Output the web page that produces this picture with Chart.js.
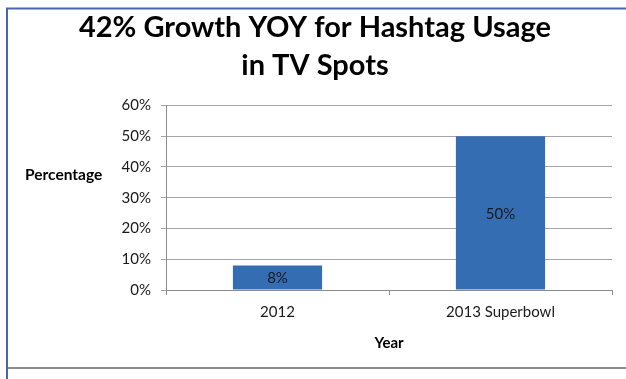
<!DOCTYPE html>
<html>
<head>
<meta charset="utf-8">
<script src="https://cdn.jsdelivr.net/npm/chart.js@4.4.1/dist/chart.umd.min.js"></script>
<style>
html,body{margin:0;padding:0;background:#fff;}
#wrap{position:relative;width:626px;height:379px;}
</style>
</head>
<body>
<div id="wrap"><canvas id="c" width="626" height="379"></canvas></div>
<script>
const categories = ["2012", "2013 Superbowl"];
const percentValues = [8, 50];
const valueLabels = ["8%", "50%"];
const titleLines = ["42% Growth YOY for Hashtag Usage", "in TV Spots"];
const yAxisTitle = "Percentage";
const xAxisTitle = "Year";

const FONT = "Lato, 'Liberation Sans', sans-serif";

const framePlugin = {
  id: 'frame',
  beforeDraw(chart) {
    const ctx = chart.ctx;
    ctx.save();
    ctx.fillStyle = '#fff';
    ctx.fillRect(0, 0, chart.width, chart.height);
    ctx.strokeStyle = '#4a64b0';
    ctx.lineWidth = 2;
    ctx.beginPath();
    ctx.moveTo(7, 379); ctx.lineTo(7, 8.5); ctx.lineTo(626, 8.5);
    ctx.stroke();
    ctx.strokeStyle = '#8c8c8c';
    ctx.beginPath();
    ctx.moveTo(8, 368); ctx.lineTo(626, 368);
    ctx.stroke();
    ctx.restore();
  },
  afterDraw(chart) {
    const ctx = chart.ctx;
    ctx.save();
    ctx.font = "bold 15.5px " + FONT;
    ctx.fillStyle = '#000';
    ctx.textAlign = 'left';
    ctx.textBaseline = 'middle';
    ctx.fillText(yAxisTitle, 25, 175);
    // data labels
    ctx.font = "15px " + FONT;
    ctx.fillStyle = '#1a1a1a';
    ctx.textAlign = 'center';
    const meta = chart.getDatasetMeta(0);
    meta.data.forEach((bar, i) => {
      const cy = (bar.y + bar.base) / 2;
      ctx.fillText(valueLabels[i], bar.x, cy + 1);
    });
    ctx.restore();
  }
};

new Chart(document.getElementById('c'), {
  type: 'bar',
  data: {
    labels: categories,
    datasets: [{
      data: percentValues,
      backgroundColor: '#346db2',
      borderWidth: 0,
      barPercentage: 0.4,
      categoryPercentage: 1.0
    }]
  },
  options: {
    responsive: false,
    animation: false,
    devicePixelRatio: 1,
    layout: { padding: { left: 18, right: 14, top: 0, bottom: 0 } },
    plugins: {
      legend: { display: false },
      tooltip: { enabled: false },
      title: {
        display: true,
        text: titleLines,
        color: '#000',
        font: { family: FONT, size: 29, weight: 'bold', lineHeight: 1.3 },
        padding: { top: 9, bottom: 21 }
      }
    },
    scales: {
      x: {
        afterFit(s) { s.height = 89; },
        grid: { drawOnChartArea: false, drawTicks: true, tickLength: 5, color: '#8c8c8c', offset: true },
        border: { display: true, color: '#8c8c8c' },
        ticks: { color: '#1a1a1a', font: { family: FONT, size: 15 }, padding: 8 },
        title: { display: true, text: xAxisTitle, color: '#000', font: { family: FONT, size: 15, weight: 'bold' }, padding: { top: 0, bottom: 27 } }
      },
      y: {
        min: 0, max: 60,
        afterFit(s) { s.width = 148; },
        grid: { color: '#a6a6a6', tickLength: 5 },
        border: { display: true, color: '#8c8c8c' },
        ticks: { stepSize: 10, color: '#1a1a1a', font: { family: FONT, size: 15 }, padding: 10,
          callback: v => v + '%' }
      }
    }
  },
  plugins: [framePlugin]
});
</script>
</body>
</html>
